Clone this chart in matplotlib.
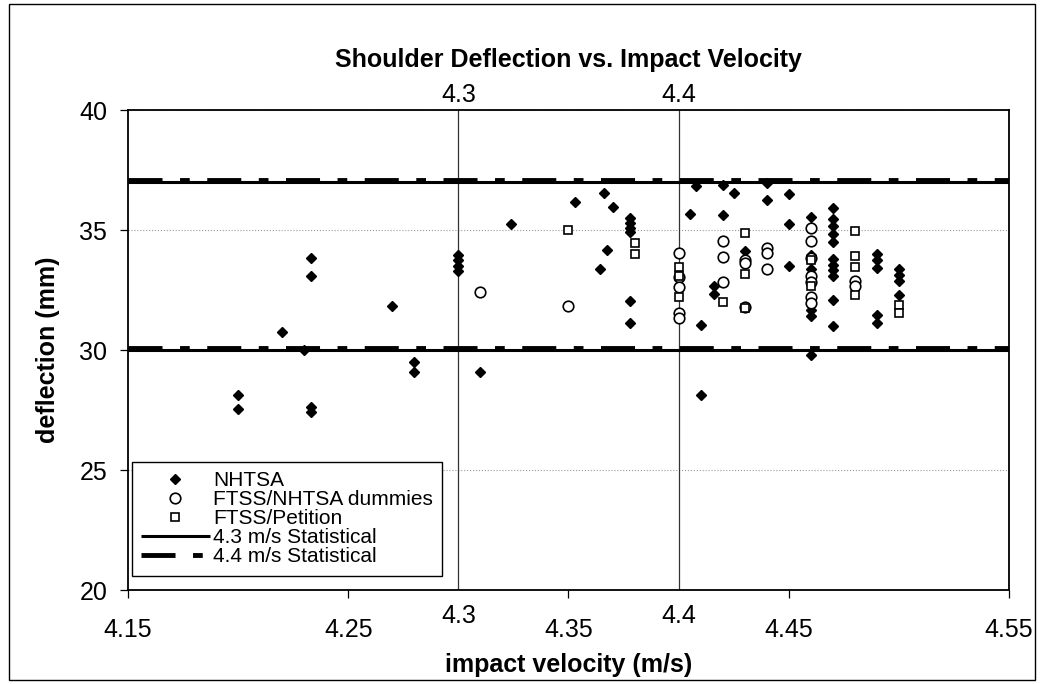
import matplotlib
matplotlib.use("Agg")
import matplotlib.pyplot as plt
from matplotlib.patches import Rectangle

plt.rcParams['font.family'] = ['Liberation Sans', 'DejaVu Sans']

# NHTSA tests (filled diamonds)
nhtsa_v = [4.20, 4.20, 4.22, 4.23, 4.233, 4.233, 4.233, 4.233, 4.27, 4.28, 4.28,
           4.30, 4.30, 4.30, 4.30, 4.31, 4.324, 4.353, 4.366, 4.370, 4.3675, 4.3645,
           4.378, 4.378, 4.378, 4.378, 4.378, 4.378,
           4.405, 4.408, 4.41, 4.41, 4.416, 4.416, 4.42, 4.42, 4.425, 4.43,
           4.44, 4.44, 4.45, 4.45, 4.45,
           4.46, 4.46, 4.46, 4.46, 4.46, 4.46,
           4.47, 4.47, 4.47, 4.47, 4.47, 4.47, 4.47, 4.47, 4.47, 4.47, 4.47,
           4.49, 4.49, 4.49, 4.49, 4.49,
           4.50, 4.50, 4.50, 4.50]
nhtsa_d = [28.14, 27.56, 30.74, 30.01, 33.83, 33.10, 27.64, 27.43, 31.85, 29.52, 29.07,
           33.95, 33.75, 33.5, 33.3, 29.10, 35.23, 36.16, 36.55, 35.95, 34.15, 33.36,
           35.5, 35.3, 35.1, 34.9, 32.03, 31.12,
           35.67, 36.83, 31.05, 28.13, 32.65, 32.33, 36.87, 35.64, 36.55, 34.14,
           36.96, 36.23, 36.48, 35.23, 33.52,
           35.53, 33.97, 33.39, 31.68, 31.4, 29.8,
           35.9, 35.45, 35.15, 34.85, 34.5, 33.8, 33.55, 33.35, 33.1, 32.1, 31.0,
           34.0, 33.77, 33.42, 31.47, 31.12,
           33.39, 33.14, 32.89, 32.3]

# FTSS/NHTSA dummies (open circles)
dummy_v = [4.31, 4.35, 4.40, 4.40, 4.40, 4.40, 4.40, 4.42, 4.42, 4.42,
           4.43, 4.43, 4.43, 4.44, 4.44, 4.44,
           4.46, 4.46, 4.46, 4.46, 4.46, 4.46, 4.46, 4.48, 4.48]
dummy_d = [32.41, 31.85, 34.03, 33.06, 32.64, 31.55, 31.32, 34.53, 33.86, 32.83,
           33.77, 33.62, 31.8, 34.23, 34.04, 33.37,
           35.09, 34.53, 33.83, 33.07, 32.83, 32.19, 31.95, 32.86, 32.65]

# FTSS/Petition (open squares)
petition_v = [4.35, 4.38, 4.38, 4.40, 4.40, 4.40, 4.42, 4.43, 4.43, 4.43,
              4.46, 4.46, 4.48, 4.48, 4.48, 4.48, 4.50, 4.50]
petition_d = [34.99, 34.46, 34.0, 33.45, 33.08, 32.2, 32.0, 34.88, 33.17, 31.75,
              33.77, 32.65, 34.95, 33.9, 33.44, 32.28, 31.89, 31.54]

# statistical limits (upper / lower)
line_v = [4.15, 4.55]
stat43 = [37.0, 30.0]
stat44 = [37.08, 30.08]

xticks_major = [4.15, 4.25, 4.35, 4.45, 4.55]
xticks_grid = [4.3, 4.4]
yticks = [20, 25, 30, 35, 40]

fig = plt.figure(figsize=(10.4, 6.84), dpi=100)
ax = fig.add_axes([128 / 1040, 1 - 590 / 684, 881 / 1040, 480 / 684])

ax.plot(nhtsa_v, nhtsa_d, 'D', color='black', ms=5.6, ls='none', label='NHTSA', zorder=4)
ax.plot(dummy_v, dummy_d, 'o', mfc='white', mec='black', mew=1.2, ms=7.6, ls='none',
        label='FTSS/NHTSA dummies', zorder=5)
ax.plot(petition_v, petition_d, 's', mfc='white', mec='black', mew=1.2, ms=6.0, ls='none',
        label='FTSS/Petition', zorder=6)

for i, (a, b) in enumerate(zip(stat43, stat44)):
    ax.plot(line_v, [a, a], color='black', lw=2.2, solid_capstyle='butt',
            label='4.3 m/s Statistical' if i == 0 else None, zorder=3)
    ax.plot(line_v, [b, b], color='black', lw=3.5, dashes=(7, 3.6, 2, 3.6),
            dash_capstyle='butt', label='4.4 m/s Statistical' if i == 0 else None, zorder=3)

for v in xticks_grid:
    ax.axvline(v, color='#333333', lw=0.9, zorder=1)

ax.set_xlim(4.15, 4.55)
ax.set_ylim(20, 40)
ax.set_yticks(yticks)
ax.yaxis.grid(True, ls=':', color='#9a9a9a', lw=0.8)
ax.set_axisbelow(True)

ax.set_xticks(xticks_major)
ax.set_xticklabels([f'{v:.2f}' for v in xticks_major])
ax.set_xticks(xticks_grid, minor=True)
ax.set_xticklabels([f'{v:.1f}' for v in xticks_grid], minor=True)
ax.tick_params(axis='x', which='major', direction='out', length=6, width=0.9,
               pad=14, labelsize=18)
ax.tick_params(axis='x', which='minor', length=0, pad=10, labelsize=18)
ax.tick_params(axis='y', direction='out', length=6, width=0.9, pad=9, labelsize=18)

top = ax.secondary_xaxis('top')
top.set_xticks(xticks_grid)
top.set_xticklabels([f'{v:.1f}' for v in xticks_grid])
top.tick_params(length=0, pad=2, labelsize=18)
top.spines['top'].set_visible(False)

for s in ax.spines.values():
    s.set_linewidth(1.3)
    s.set_color('black')

ax.set_xlabel('impact velocity (m/s)', fontsize=18, fontweight='bold', labelpad=8)
ax.set_ylabel('deflection (mm)', fontsize=18, fontweight='bold', labelpad=14)
fig.text(0.5466, 1 - 60 / 684, 'Shoulder Deflection vs. Impact Velocity',
         ha='center', va='center', fontsize=18, fontweight='bold')

leg = ax.legend(loc='lower left', bbox_to_anchor=(0.004, 0.03), borderaxespad=0,
                fontsize=15, frameon=True, fancybox=False, edgecolor='black',
                framealpha=1, borderpad=0.45, handlelength=3.3, handletextpad=0.15,
                labelspacing=0.0, numpoints=1)
leg.get_frame().set_linewidth(1.0)

fig.patches.append(Rectangle((9 / 1040, 4 / 684), 1026 / 1040, 676 / 684,
                             transform=fig.transFigure, fill=False,
                             edgecolor='black', lw=1.0))

fig.savefig('out.png', dpi=100)
